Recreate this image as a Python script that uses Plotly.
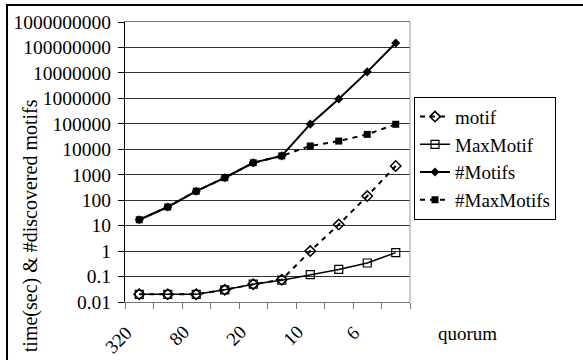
import plotly.graph_objects as go

# ---- data ----
quorum = ["320", "160", "80", "40", "20", "15", "10", "8", "6", "5"]
tick_text = ["320", "", "80", "", "20", "", "10", "", "6", ""]
motif_time = [0.02, 0.02, 0.02, 0.03, 0.05, 0.075, 1.0, 11, 145, 2200]
maxmotif_time = [0.02, 0.02, 0.02, 0.03, 0.05, 0.072, 0.12, 0.19, 0.34, 0.87]
n_motifs = [17, 54, 225, 760, 2950, 5500, 97000, 950000, 11000000, 150000000]
n_maxmotifs = [17, 54, 225, 760, 2950, 5500, 13500, 21000, 38500, 96000]
y_tickvals = [0.01, 0.1, 1, 10, 100, 1000, 10000, 100000, 1000000,
              10000000, 100000000, 1000000000]
y_ticktext = ["0.01", "0.1", "1", "10", "100", "1000", "10000", "100000",
              "1000000", "10000000", "100000000", "1000000000"]

FONT = "'Liberation Serif', 'Times New Roman', serif"
FS = 19

fig = go.Figure()
fig.add_trace(go.Scatter(
    x=quorum, y=motif_time, name="motif", mode="lines+markers",
    line=dict(color="black", width=2, dash="5px,5px"),
    marker=dict(symbol="diamond-open", size=8, color="black",
                line=dict(width=1.5, color="black"))))
fig.add_trace(go.Scatter(
    x=quorum, y=maxmotif_time, name="MaxMotif", mode="lines+markers",
    line=dict(color="black", width=1.5),
    marker=dict(symbol="square-open", size=8, color="black",
                line=dict(width=1.2, color="black"))))
fig.add_trace(go.Scatter(
    x=quorum, y=n_motifs, name="#Motifs", mode="lines+markers",
    line=dict(color="black", width=2),
    marker=dict(symbol="diamond", size=7, color="black")))
fig.add_trace(go.Scatter(
    x=quorum, y=n_maxmotifs, name="#MaxMotifs", mode="lines+markers",
    line=dict(color="black", width=2, dash="5px,5px"),
    marker=dict(symbol="square", size=7, color="black")))

# rotated category labels placed as annotations on the x axis
# (category axes take the category index as annotation position)
xlabel_annots = [
    dict(text=t, x=i, xref="x", y=0, yref="paper",
         xanchor="right", yanchor="top", xshift=0, yshift=-17,
         textangle=-45, showarrow=False,
         font=dict(family=FONT, size=FS, color="black"))
    for i, t in enumerate(tick_text) if t
]

fig.update_layout(
    width=583, height=360,
    margin=dict(l=125, r=173, t=22, b=58, autoexpand=False),
    paper_bgcolor="white", plot_bgcolor="white",
    font=dict(family=FONT, size=FS, color="black"),
    showlegend=True,
    legend=dict(x=1.014, y=0.733, xanchor="left", yanchor="top",
                bordercolor="black", borderwidth=1, bgcolor="white",
                font=dict(family=FONT, size=FS, color="black"),
                itemwidth=30, tracegroupgap=0),
    xaxis=dict(type="category", range=[-0.5, 9.5], automargin=False,
               tickmode="array", tickvals=quorum, ticktext=tick_text,
               showticklabels=False,
               tickson="boundaries", ticks="outside", ticklen=6,
               tickcolor="#777",
               showline=True, linecolor="#777", linewidth=1,
               mirror=True, showgrid=False, zeroline=False),
    yaxis=dict(type="log", range=[-2, 9], automargin=False,
               tickmode="array", tickvals=y_tickvals, ticktext=y_ticktext,
               ticks="outside", ticklen=6, tickcolor="black",
               ticklabelstandoff=3,
               showline=True, linecolor="black", linewidth=1,
               showgrid=True, gridcolor="#333", gridwidth=1,
               zeroline=False,
               tickfont=dict(family=FONT, size=19.5, color="black")),
    shapes=[
        dict(type="line", xref="paper", yref="paper", x0=1, x1=1, y0=0, y1=1,
             line=dict(color="#999", width=1)),
        dict(type="rect", xref="paper", yref="paper",
             x0=-0.414, x1=3, y0=-1, y1=1.061,
             line=dict(color="black", width=2)),
    ],
    annotations=xlabel_annots + [
        dict(text="time(sec) &amp; #discovered motifs", xref="paper", yref="paper",
             x=-0.333, y=0.271, xanchor="center", yanchor="middle",
             textangle=-90, showarrow=False,
             font=dict(family=FONT, size=20, color="black")),
        dict(text="quorum", xref="paper", yref="paper",
             x=1.2, y=-0.111, xanchor="center", yanchor="middle",
             showarrow=False, font=dict(family=FONT, size=FS, color="black")),
    ],
)

fig.write_html("out.html",
               config={"displayModeBar": False},
               post_script="document.body.style.margin='0';"
                           "document.body.style.overflow='hidden';")
